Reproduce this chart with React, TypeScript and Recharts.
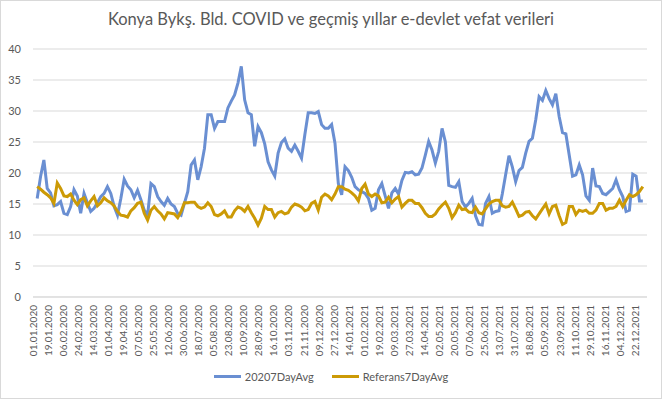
import React from "react";
import { LineChart, Line, XAxis, YAxis, CartesianGrid } from "recharts";

// x axis tick labels (every 18th day of the category axis)
const tickLabels = [
  "01.01.2020", "19.01.2020", "06.02.2020", "24.02.2020", "14.03.2020", "01.04.2020",
  "19.04.2020", "07.05.2020", "25.05.2020", "12.06.2020", "30.06.2020", "18.07.2020",
  "05.08.2020", "23.08.2020", "10.09.2020", "28.09.2020", "16.10.2020", "03.11.2020",
  "21.11.2020", "09.12.2020", "27.12.2020", "14.01.2021", "01.02.2021", "19.02.2021",
  "09.03.2021", "27.03.2021", "14.04.2021", "02.05.2021", "20.05.2021", "07.06.2021",
  "25.06.2021", "13.07.2021", "31.07.2021", "18.08.2021", "05.09.2021", "23.09.2021",
  "11.10.2021", "29.10.2021", "16.11.2021", "04.12.2021", "22.12.2021",
];
const TICK_EVERY = 18;
const LAST_DAY = 734;

// values every 4th day, starting at day 5
const FIRST_DAY = 5;
const DAY_STEP = 4;

const covid2020 = [
  15.9, 19.4, 22.1, 17.5, 16.8, 14.7, 14.9, 15.4, 13.5, 13.3,
  14.6, 17.3, 16.3, 13.5, 16.7, 15.2, 13.8, 14.3, 15.2, 16.2,
  16.7, 17.8, 16.7, 14.6, 13.2, 15.9, 19.0, 17.9, 17.3, 16.0,
  17.2, 15.7, 14.0, 13.2, 18.3, 17.8, 16.2, 15.4, 14.8, 15.9,
  15.0, 14.6, 13.5, 13.2, 15.1, 17.0, 21.3, 22.1, 18.9, 21.0,
  24.0, 29.4, 29.4, 27.2, 28.3, 28.3, 28.3, 30.5, 31.6, 32.6,
  34.5, 37.2, 31.8, 29.7, 29.4, 24.3, 27.5, 26.5, 24.7, 21.8,
  20.5, 19.5, 23.2, 24.9, 25.5, 24.0, 23.5, 24.5, 23.5, 22.4,
  26.2, 29.7, 29.7, 29.6, 29.9, 27.8, 27.2, 27.2, 27.8, 24.8,
  18.3, 16.5, 21.0, 20.4, 19.3, 17.8, 17.3, 17.0, 16.7, 15.9,
  14.0, 14.3, 17.3, 18.3, 16.3, 14.3, 16.8, 17.5, 16.6, 18.8,
  20.1, 20.0, 20.2, 19.7, 19.8, 20.8, 22.9, 25.1, 23.7, 21.6,
  23.5, 27.2, 25.0, 18.0, 17.8, 17.7, 18.6, 15.4, 14.5, 15.1,
  15.9, 13.1, 11.7, 11.6, 15.1, 16.2, 13.5, 13.8, 13.9, 16.6,
  19.7, 22.8, 21.0, 18.6, 20.4, 20.9, 23.2, 25.1, 25.6, 28.6,
  32.3, 31.7, 33.3, 32.0, 31.0, 32.8, 29.1, 26.5, 26.3, 22.9,
  19.5, 19.7, 21.3, 19.7, 16.3, 15.6, 20.8, 17.9, 17.8, 16.7,
  16.5, 17.0, 17.5, 18.9, 17.3, 16.2, 13.8, 14.0, 19.8, 19.5,
  15.5, 15.5,
];

const referans = [
  17.8, 17.4, 16.9, 16.5, 16.0, 15.1, 18.4, 17.5, 16.3, 16.2,
  16.6, 15.6, 14.9, 15.7, 16.0, 14.7, 15.5, 16.2, 14.7, 15.2,
  16.0, 15.5, 15.2, 14.7, 13.8, 13.2, 13.1, 12.9, 13.9, 14.4,
  15.1, 15.3, 13.5, 12.4, 14.0, 14.6, 13.9, 13.4, 12.6, 13.6,
  13.5, 13.4, 12.8, 13.8, 15.2, 15.2, 15.3, 15.3, 14.6, 14.3,
  14.5, 15.2, 14.6, 13.3, 13.1, 13.4, 13.9, 12.9, 12.9, 13.9,
  14.5, 14.3, 13.8, 14.6, 13.6, 12.7, 11.6, 12.7, 14.6, 14.1,
  14.1, 12.9, 13.6, 13.8, 13.4, 13.6, 14.5, 15.0, 14.8, 14.5,
  13.9, 14.1, 15.1, 15.4, 14.0, 16.1, 16.6, 16.3, 15.7, 16.6,
  17.8, 17.8, 17.4, 17.2, 16.8, 16.3, 15.5, 17.5, 18.2, 16.6,
  16.2, 16.6, 16.3, 15.2, 15.3, 16.1, 15.2, 15.8, 16.2, 14.5,
  15.1, 15.6, 15.6, 15.1, 15.1, 14.4, 13.5, 13.0, 13.0, 13.4,
  14.2, 14.8, 15.3, 14.3, 12.8, 13.6, 14.8, 14.1, 14.2, 13.7,
  13.6, 14.5, 13.6, 13.4, 14.2, 15.0, 15.4, 15.6, 15.6, 14.7,
  14.5, 14.6, 15.3, 14.2, 13.0, 13.2, 13.7, 13.8, 13.1, 12.6,
  13.4, 14.2, 15.0, 13.4, 14.6, 14.8, 13.1, 11.7, 12.0, 14.6,
  14.6, 13.3, 14.0, 13.8, 14.0, 13.5, 13.5, 14.0, 15.1, 15.1,
  14.0, 14.3, 14.3, 14.6, 15.6, 14.6, 15.6, 16.5, 16.2, 16.5,
  17.0, 17.8,
];

const yTicks = [0, 5, 10, 15, 20, 25, 30, 35, 40];

const BLUE = "#6A8FD2";
const GOLD = "#CC9A06";
const TEXT = "#595959";
const FONT = "Lato, 'Noto Sans', sans-serif";

const data = covid2020.map((v, i) => ({
  day: FIRST_DAY + i * DAY_STEP,
  covid: v,
  ref: referans[i],
}));

const xTicks = tickLabels.map((_, i) => i * TICK_EVERY);

function DateTick(props: any) {
  const { x, y, payload } = props;
  const label = tickLabels[Math.round(payload.value / TICK_EVERY)] ?? "";
  return (
    <text
      x={x}
      y={y}
      transform={`rotate(-90, ${x}, ${y})`}
      textAnchor="end"
      dy="0.35em"
      fontSize={10}
      fill={TEXT}
      fontFamily={FONT}
    >
      {label}
    </text>
  );
}

export default function App() {
  return (
    <div style={{ position: "absolute", left: 0, top: 0, width: 662, height: 399, background: "#fff", fontFamily: FONT }}>
      <div
        style={{
          position: "absolute", left: 0, top: 0, width: 662, height: 399,
          boxSizing: "border-box", border: "1px solid #d9d9d9", pointerEvents: "none",
        }}
      />
      <div
        style={{
          position: "absolute", left: 0, top: 9, width: 662, textAlign: "center",
          fontSize: 16.5, color: TEXT, whiteSpace: "nowrap",
        }}
      >
        Konya Bykş. Bld. COVID ve geçmiş yıllar e-devlet vefat verileri
      </div>
      <LineChart width={662} height={399} data={data} margin={{ top: 49, right: 15, left: 0, bottom: 0 }}>
        <CartesianGrid vertical={false} stroke="#d9d9d9" />
        <XAxis
          dataKey="day"
          type="number"
          domain={[0, LAST_DAY]}
          ticks={xTicks}
          interval={0}
          height={102}
          axisLine={{ stroke: "#d9d9d9" }}
          tickLine={false}
          tickSize={0}
          tickMargin={8}
          tick={<DateTick />}
        />
        <YAxis
          domain={[0, 40]}
          ticks={yTicks}
          width={33}
          axisLine={false}
          tickLine={false}
          tickSize={0}
          tickMargin={12}
          tick={{ fontSize: 11, fill: TEXT, fontFamily: FONT }}
        />
        <Line type="linear" dataKey="covid" stroke={BLUE} strokeWidth={3} dot={false} isAnimationActive={false} />
        <Line type="linear" dataKey="ref" stroke={GOLD} strokeWidth={3} dot={false} isAnimationActive={false} />
      </LineChart>
      <div
        style={{
          position: "absolute", left: 0, top: 370, width: 662, display: "flex",
          justifyContent: "center", alignItems: "center", fontSize: 11, color: TEXT,
        }}
      >
        <span style={{ display: "inline-block", width: 27, height: 3, background: BLUE, marginRight: 4 }} />
        <span style={{ marginRight: 18 }}>20207DayAvg</span>
        <span style={{ display: "inline-block", width: 27, height: 3, background: GOLD, marginRight: 4 }} />
        <span>Referans7DayAvg</span>
      </div>
    </div>
  );
}
